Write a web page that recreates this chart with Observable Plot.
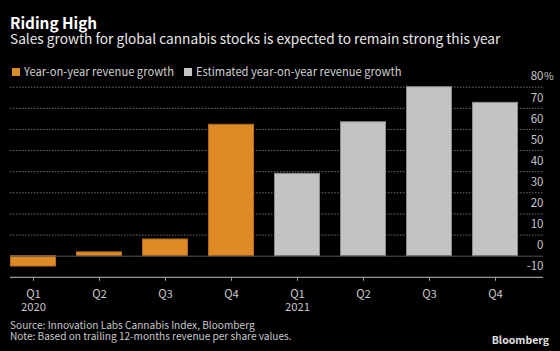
<!DOCTYPE html>
<html><head><meta charset="utf-8">
<script src="https://cdn.jsdelivr.net/npm/d3@7"></script>
<script src="https://cdn.jsdelivr.net/npm/@observablehq/plot@0.6"></script>
<style>
html,body{margin:0;padding:0;background:#000;}
#wrap{position:relative;width:560px;height:351px;overflow:hidden;background:#000;font-family:"Noto Sans CJK KR","Noto Sans",sans-serif;}
#chart{position:absolute;left:0;top:0;}
.t{position:absolute;white-space:nowrap;line-height:1;}
#title{left:10px;font-size:15.3px;font-weight:bold;color:#fff;}
#subtitle{left:10px;font-size:13.7px;color:#e8e8e8;}
.leg{font-size:11.2px;color:#cfcfcf;}
.leg span.sw{display:inline-block;width:8px;height:8px;margin-right:4px;vertical-align:baseline;}
#source{left:10px;font-size:10.1px;color:#c8c8c8;}
#note{left:10px;font-size:10.1px;color:#c8c8c8;}
#logo{right:11px;font-size:10.5px;font-weight:bold;color:#e0e0e0;}
</style></head><body>
<div id="wrap">
<div id="chart"></div>
<div class="t" id="title">Riding High</div>
<div class="t" id="subtitle">Sales growth for global cannabis stocks is expected to remain strong this year</div>
<div class="t" id="source">Source: Innovation Labs Cannabis Index, Bloomberg</div>
<div class="t" id="note">Note: Based on trailing 12-months revenue per share values.</div>
<div class="t" id="logo">Bloomberg</div>
</div>
<script>
const quarters = ["Q1 2020","Q2 2020","Q3 2020","Q4 2020","Q1 2021","Q2 2021","Q3 2021","Q4 2021"];
const quarterLabels = ["Q1","Q2","Q3","Q4","Q1","Q2","Q3","Q4"];
const yearLabels = ["2020","","","","2021","","",""];
const growth = [-4.9, 1.8, 7.9, 62.2, 39.0, 63.4, 80.0, 72.6];
const seriesType = ["actual","actual","actual","actual","estimate","estimate","estimate","estimate"];
const seriesKeys = ["actual","estimate"];
const seriesNames = ["Year-on-year revenue growth","Estimated year-on-year revenue growth"];
const seriesColors = ["#de8a27","#c3c3c3"];
const seriesStrokes = ["#b06a1c","#8c8c8c"];
const yTicks = [-10,0,10,20,30,40,50,60,70,80];

const data = quarters.map((q,i)=>({q, v:growth[i], s:seriesType[i]}));

const wrap = document.getElementById("wrap");
const legendLeft = [12, 184];
seriesKeys.forEach((k,i)=>{
  const item = document.createElement("div");
  item.className="t leg"; item.id = "leg"+i;
  item.style.left = legendLeft[i]+"px";
  const sw = document.createElement("span");
  sw.className="sw"; sw.style.background = seriesColors[i];
  item.appendChild(sw);
  item.appendChild(document.createTextNode(seriesNames[i]));
  wrap.appendChild(item);
});

const font = '"Noto Sans CJK KR","Noto Sans",sans-serif';
const chart = Plot.plot({
  width:560, height:351,
  marginTop:86.7, marginBottom:74.2, marginLeft:10, marginRight:17,
  style:{background:"transparent", color:"#c8c8c8", fontFamily:font, fontSize:"11.3px"},
  x:{domain:quarters, paddingInner:0.3, paddingOuter:0.1755, align:0, axis:null},
  y:{domain:[-10,80], axis:null},
  marks:[
    Plot.ruleY(yTicks.filter(d=>d>0), {stroke:"#707070", strokeDasharray:"1.5,1.5", strokeWidth:1}),
    ...seriesKeys.map((k,i)=>Plot.barY(data, {filter:d=>d.s===k, x:"q", y:"v", fill:seriesColors[i], stroke:seriesStrokes[i], strokeWidth:1, insetLeft:0.5, insetRight:0.5})),
    Plot.ruleY([0], {stroke:"#505050"}),
    Plot.ruleY([-10], {stroke:"#9a9a9a", strokeWidth:1.2}),
    Plot.axisY({anchor:"right", label:null, ticks:yTicks, tickSize:0, tickPadding:0, textAnchor:"end", dy:-10.5, fontSize:11.5, fill:"#c8c8c8",
      tickFormat:d=> d<0 ? "-" + Math.abs(d) : String(d)}),
    Plot.text([yTicks[yTicks.length-1]], {y:d=>d, text:()=>"%", frameAnchor:"right", textAnchor:"start", dy:-10.5, dx:0.5, fontSize:10.5, fill:"#c8c8c8"}),
    Plot.axisX({label:null, ticks:quarters, tickSize:4, tickPadding:7, stroke:"#9a9a9a", fill:"#c8c8c8", fontSize:11.3, lineHeight:1.18,
      tickFormat:d=>{const i=quarters.indexOf(d); return yearLabels[i] ? quarterLabels[i]+"\n"+yearLabels[i] : quarterLabels[i];}})
  ]
});
document.getElementById("chart").appendChild(chart);

// place text blocks so their baselines sit at the intended rows
const baselines = {title:29.3, subtitle:44.3, leg0:76, leg1:76, source:328.7, note:340.3, logo:344.3};
function place(){
  for (const [id,b] of Object.entries(baselines)){
    const el = document.getElementById(id);
    el.style.top = "0px";
    const m = document.createElement("span");
    m.style.cssText = "display:inline-block;width:0;height:0;vertical-align:baseline";
    el.appendChild(m);
    const off = m.getBoundingClientRect().top - el.getBoundingClientRect().top;
    el.removeChild(m);
    el.style.top = (b - off) + "px";
  }
}
place();
if (document.fonts && document.fonts.ready) document.fonts.ready.then(place);
</script>
</body></html>
